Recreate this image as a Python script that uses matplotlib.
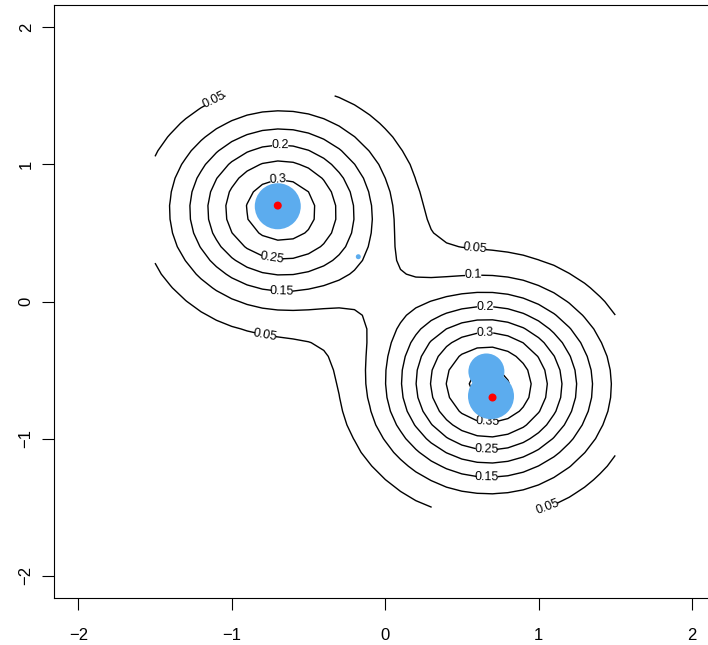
import numpy as np
import matplotlib
matplotlib.use("Agg")
import matplotlib.pyplot as plt

plt.rcParams['font.family'] = ['Liberation Sans', 'DejaVu Sans']

# mixture fitted to the contour rings (last one is the thin ridge between the modes)
comp_mx = [-0.685, 0.68, 0.04]
comp_my = [0.67, -0.61, 0.04]
comp_sd = [0.463, 0.47, 0.381]
comp_rho = [0.0, 0.0, -0.724]
comp_w = [0.452, 0.575, 0.0095]

# true centres (red) and weighted particles (blue)
centre_x = [-0.7, 0.7]
centre_y = [0.7, -0.7]
part_x = [-0.70, 0.66, 0.69, -0.175]
part_y = [0.695, -0.51, -0.69, 0.327]
part_w = [0.46, 0.36, 0.46, 0.05]

levels = [0.05, 0.1, 0.15, 0.2, 0.25, 0.3, 0.35, 0.4]
ticks = [-2, -1, 0, 1, 2]

# where R put the contour labels
label_pos = [(-1.11, 1.46), (-0.685, 1.128), (-0.698, 0.886), (-0.737, 0.322),
             (-0.672, 0.08), (0.587, 0.381), (0.574, 0.183), (0.652, -0.059),
             (0.652, -0.242), (0.665, -0.886), (0.659, -1.077), (0.665, -1.275),
             (1.04, -1.443), (-0.783, -0.256)]


def density(x, y):
    z = np.zeros_like(x)
    for mx, my, sd, rho, w in zip(comp_mx, comp_my, comp_sd, comp_rho, comp_w):
        dx = (x - mx) / sd
        dy = (y - my) / sd
        q = (dx**2 - 2 * rho * dx * dy + dy**2) / (1 - rho**2)
        z += w / (2 * np.pi * sd**2 * np.sqrt(1 - rho**2)) * np.exp(-q / 2)
    return z


g = np.linspace(-1.5, 1.5, 31)
X, Y = np.meshgrid(g, g)
Z = density(X, Y)

fig = plt.figure(figsize=(7.08, 6.45), dpi=100)
ax = fig.add_axes([53.8 / 708, 47.3 / 645, 662.7 / 708, 592.3 / 645])

cs = ax.contour(X, Y, Z, levels=levels, colors='black', linewidths=1.0, zorder=1)
ax.clabel(cs, levels, fontsize=9, fmt=lambda v: f'{v:g}', manual=label_pos,
          inline=True, inline_spacing=3)

px_to_pt = 72 / 100
sizes = [(100 * w * px_to_pt)**2 for w in part_w]
ax.scatter(part_x, part_y, s=sizes, color='#5CACEE', edgecolors='none', zorder=3)
ax.scatter(centre_x, centre_y, s=(8 * px_to_pt)**2, color='red', edgecolors='none', zorder=4)

ax.set_xlim(-2.16, 2.16)
ax.set_ylim(-2.16, 2.16)
ax.set_xticks(ticks)
ax.set_yticks(ticks)
ax.set_xticklabels([f'{t}'.replace('-', '\u2212') for t in ticks])
ax.set_yticklabels([f'{t}'.replace('-', '\u2212') for t in ticks], rotation=90, va='center')
ax.tick_params(length=8.5, width=0.8, labelsize=12)
ax.tick_params(axis='x', pad=13)
ax.tick_params(axis='y', pad=6)
for sp in ax.spines.values():
    sp.set_linewidth(0.8)

fig.savefig('out.png', dpi=100)
